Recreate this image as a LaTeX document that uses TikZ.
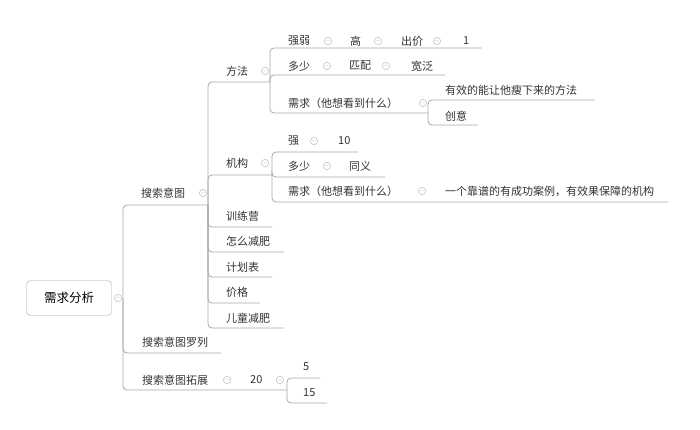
\documentclass[tikz,border=0pt]{standalone}
\usepackage{fontspec}
\setmainfont{Noto Sans CJK SC}
\begin{document}
\begin{tikzpicture}[x=1pt,y=-1pt]
\tikzstyle{topic} = [anchor=west, inner sep=1pt, font=\fontsize{11}{12}\selectfont, text=black!80]
\tikzstyle{fold} = [circle, draw=gray!60, minimum size=7pt, inner sep=0pt, text=gray!60, font=\fontsize{6}{6}\selectfont]
\tikzstyle{branch} = [draw=gray!70, line width=0.8pt, rounded corners=4pt]
\useasboundingbox (0,0) rectangle (700,430);
% root
\node[draw=gray!70, rounded corners=4pt, minimum width=85pt, minimum height=35pt, font=\fontsize{12.5}{14}\selectfont] (root) at (69,298) {需求分析};
\node[fold] (rootf) at (118,298) {$-$};
\coordinate (r) at (123,298);
% level 1
\node[topic] (yt) at (140,193) {搜索意图};
\node[fold] (ytf) at (203,193) {$-$};
\node[topic] (lie) at (141,342) {搜索意图罗列};
\node[topic] (tz) at (141,380) {搜索意图拓展};
\node[fold] (tzf) at (227,380) {$-$};
\node[topic] (n20) at (249,380) {20};
\node[fold] (n20f) at (280,380) {$-$};
\coordinate (yte) at (208,205);
\coordinate (liee) at (221,353);
\coordinate (tze) at (287,390);
\draw[branch] (r) |- (yte);
\draw[branch] (r) |- (liee);
\draw[branch] (r) |- (tze);
% 20
\node[topic] (n5) at (302,367) {5};
\node[topic] (n15) at (302,393) {15};
\coordinate (n5e) at (320,378);
\coordinate (n15e) at (327,403);
\draw[branch] (tze) |- (n5e);
\draw[branch] (tze) |- (n15e);
% level 2
\node[topic] (ff) at (225,71) {方法};
\node[fold] (fff) at (265,71) {$-$};
\node[topic] (jg) at (225,163) {机构};
\node[fold] (jgf) at (265,163) {$-$};
\node[topic] (xly) at (225,216) {训练营};
\node[topic] (zm) at (225,241) {怎么减肥};
\node[topic] (jh) at (225,267) {计划表};
\node[topic] (jgg) at (225,292) {价格};
\node[topic] (et) at (225,318) {儿童减肥};
\coordinate (ffe) at (270,82);
\coordinate (jge) at (272,175);
\coordinate (xlye) at (272,227);
\coordinate (zme) at (284,252);
\coordinate (jhe) at (272,277);
\coordinate (jgge) at (260,303);
\coordinate (ete) at (284,328);
\foreach \e in {ffe,jge,xlye,zme,jhe,jgge,ete}
  \draw[branch] (yte) |- (\e);
% 方法
\node[topic] (qr) at (287,41) {强弱};
\node[fold] at (328,41) {$-$};
\node[topic] (gao) at (349,41) {高};
\node[fold] at (378,41) {$-$};
\node[topic] (cj) at (400,41) {出价};
\node[fold] at (437,41) {$-$};
\node[topic] (one) at (462,41) {1};
\node[topic] (ds) at (287,66) {多少};
\node[fold] at (327,66) {$-$};
\node[topic] (pp) at (348,66) {匹配};
\node[fold] at (386,66) {$-$};
\node[topic] (kf) at (410,66) {宽泛};
\node[topic] (xq) at (287,103) {需求（他想看到什么）};
\node[fold] at (423,103) {$-$};
\coordinate (qre) at (482,48);
\coordinate (dse) at (445,75);
\coordinate (xqe) at (428,113);
\foreach \e in {qre,dse,xqe}
  \draw[branch] (ffe) |- (\e);
\node[topic] (yx) at (444,90) {有效的能让他瘦下来的方法};
\node[topic] (cy) at (444,116) {创意};
\coordinate (yxe) at (595,100);
\coordinate (cye) at (478,125);
\draw[branch] (xqe) |- (yxe);
\draw[branch] (xqe) |- (cye);
% 机构
\node[topic] (qiang) at (287,141) {强};
\node[fold] at (314,141) {$-$};
\node[topic] (ten) at (337,141) {10};
\node[topic] (ds2) at (287,166) {多少};
\node[fold] at (327,166) {$-$};
\node[topic] (ty) at (348,166) {同义};
\node[topic] (xq2) at (287,191) {需求（他想看到什么）};
\node[fold] at (422,191) {$-$};
\node[topic] (kp) at (444,191) {一个靠谱的有成功案例，有效果保障的机构};
\coordinate (qiange) at (358,152);
\coordinate (ds2e) at (385,177);
\coordinate (xq2e) at (668,202);
\foreach \e in {qiange,ds2e,xq2e}
  \draw[branch] (jge) |- (\e);
\end{tikzpicture}
\end{document}
